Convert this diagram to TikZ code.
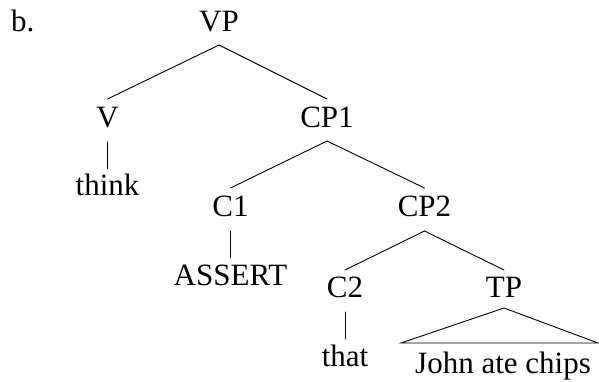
\documentclass[tikz,border=0pt]{standalone}
\usepackage{fontspec}
\setmainfont{Liberation Serif}
\begin{document}
\begin{tikzpicture}[x=1pt,y=-1pt,
  lbl/.style={anchor=base,inner sep=0pt,font=\fontsize{31}{36}\selectfont},
  edge/.style={line width=0.9pt,line cap=round}]
\useasboundingbox (0,0) rectangle (599,381);
\node[lbl,anchor=base west] (b) at (11,31) {b.};
\node[lbl] (VP) at (219,31) {VP};
\node[lbl] (V) at (107.5,127) {V};
\node[lbl] (CP1) at (327,127) {CP1};
\node[lbl] (think) at (107.5,195) {think};
\node[lbl] (C1) at (230.5,216) {C1};
\node[lbl] (CP2) at (424.5,216) {CP2};
\node[lbl] (ASSERT) at (230.5,285) {ASSERT};
\node[lbl] (C2) at (345,297) {C2};
\node[lbl] (TP) at (504,297) {TP};
\node[lbl] (that) at (345,366) {that};
\node[lbl] (john) at (503,373) {John ate chips};
% branches
\draw[edge] ([yshift=-14pt]VP.base) -- ([yshift=28pt]V.base);
\draw[edge] ([yshift=-14pt]VP.base) -- ([yshift=28pt]CP1.base);
\draw[edge] ([yshift=-14pt]CP1.base) -- ([yshift=28pt]C1.base);
\draw[edge] ([yshift=-14pt]CP1.base) -- ([yshift=28pt]CP2.base);
\draw[edge] ([yshift=-15pt]CP2.base) -- ([yshift=27pt]C2.base);
\draw[edge] ([yshift=-15pt]CP2.base) -- ([yshift=27pt]TP.base);
% unary
\draw[edge] ([yshift=-15pt]V.base) -- ([yshift=26pt]think.base);
\draw[edge] ([yshift=-15pt]C1.base) -- ([yshift=27pt]ASSERT.base);
\draw[edge] ([yshift=-15pt]C2.base) -- ([yshift=27pt]that.base);
% triangle
\draw[edge] ([xshift=-102pt,yshift=30pt]john.base) -- ([yshift=-11pt]TP.base) -- ([xshift=95pt,yshift=30pt]john.base) -- cycle;
\end{tikzpicture}
\end{document}
